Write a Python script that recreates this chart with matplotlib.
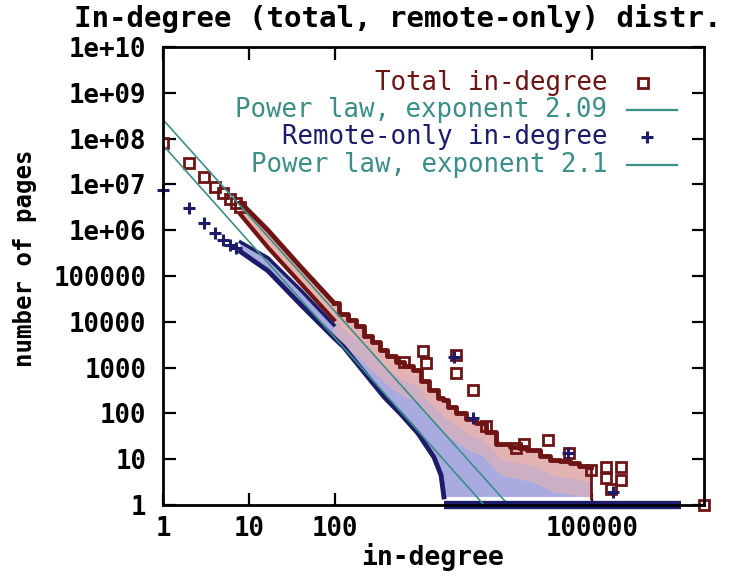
import matplotlib
matplotlib.use("Agg")
import matplotlib.pyplot as plt
import numpy as np

# --- data ---
# total in-degree, first few degrees (single squares)
tot_x = [1, 2, 3, 4, 5, 6, 7, 8]
tot_y = [8.0e7, 2.9e7, 1.45e7, 8.8e6, 6.5e6, 4.8e6, 3.9e6, 3.2e6]

# remote-only in-degree, first few degrees (pluses)
rem_x = [1, 2, 3, 4, 5, 6, 7]
rem_y = [7.6e6, 3.0e6, 1.45e6, 8.7e5, 6.1e5, 4.8e5, 4.1e5]

# total band while separate (degree 8 .. 98)
band_x = [8, 16.7, 40, 98]
tot_band_up = [4.0e6, 1.0e6, 1.6e5, 2.6e4]
tot_band_lo = [2.2e6, 4.2e5, 7.0e4, 1.1e4]
rem_band_up = [5.5e5, 2.5e5, 5.0e4, 8.5e3]
rem_band_lo = [3.4e5, 1.3e5, 2.4e4, 4.5e3]

# merged cloud, upper edge (total) from degree 98 on
cloud_up_x = [98, 128, 155, 200, 245, 300, 377, 450, 590, 700, 935, 1100, 1440,
              1740, 1880, 2300, 2960, 3800, 5100, 6500, 8700, 13700, 21000,
              28000, 36000, 48000, 62000, 80000, 98000]
cloud_up_y = [2.6e4, 1.5e4, 1.1e4, 8.0e3, 5.0e3, 3.6e3, 2.4e3, 1.8e3, 1.3e3,
              1.1e3, 890, 500, 320, 215, 195, 140, 102, 75, 62, 40, 22, 18.5, 16,
              12, 9.6, 9.0, 8.3, 7.2, 6.8]
# merged cloud, lower edge (remote-only)
cloud_lo_x = [98, 128, 155, 245, 377, 590, 935, 1440, 1740, 1880, 98000]
cloud_lo_y = [4.5e3, 2.8e3, 1.8e3, 620, 230, 97, 37, 11, 4.5, 1.5, 1.5]

# degree-1 counts stretch out to about a million
ones_x = [1880, 1.1e6]
ones_y = [1, 1]

# scattered squares / pluses above the cloud
out_sq_x = [645, 1070, 1170, 2600, 2600, 4100, 5800, 13000, 16000, 31000, 54000,
            97000, 145000, 218000, 145000, 218000, 166000, 2.0e6]
out_sq_y = [1320, 2300, 1260, 1900, 760, 325, 53, 18, 21, 26, 13.7,
            5.8, 6.7, 6.7, 3.9, 3.5, 2.2, 1]
out_pl_x = [2460, 4100, 52000, 175000]
out_pl_y = [1700, 79, 13.7, 1.9]

# fitted power laws
fit_tot_c, fit_tot_exp = 2.6e8, 2.09
fit_rem_c, fit_rem_exp = 7.2e7, 2.1

yticks = [1, 10, 100, 1000, 10000, 100000, 1e6, 1e7, 1e8, 1e9, 1e10]
ytick_labels = ["1", "10", "100", "1000", "10000", "100000",
                "1e+06", "1e+07", "1e+08", "1e+09", "1e+10"]
xticks = [1, 10, 100, 100000]
xtick_labels = ["1", "10", "100", "100000"]

maroon = "#6e1414"
navy = "#1c1c6b"
teal = "#3a8f88"
pink = "#eab4ae"
lavender = "#a9abe0"
mono = "DejaVu Sans Mono"

fig = plt.figure(figsize=(7.36, 5.76), dpi=100)
ax = fig.add_axes([163 / 736, 1 - 505 / 576, 541 / 736, 458 / 576])
ax.set_xscale("log")
ax.set_yscale("log")
ax.set_xlim(1, 2.02e6)
ax.set_ylim(1, 1e10)

# merged cloud: lavender body, pink toward the upper edge
cx = np.concatenate([cloud_up_x, cloud_lo_x[::-1]])
cy = np.concatenate([cloud_up_y, cloud_lo_y[::-1]])
ax.fill(cx, cy, color=lavender, lw=0, zorder=2)
ux = np.array(cloud_up_x, dtype=float)
uy = np.array(cloud_up_y, dtype=float)
lo_at_up = np.exp(np.interp(np.log(ux), np.log(cloud_lo_x), np.log(cloud_lo_y)))
ax.fill_between(ux, np.maximum(uy / 5, lo_at_up), uy, color=pink, lw=0,
                alpha=0.55, zorder=2)
ax.fill_between(ux, np.maximum(uy / 2.2, lo_at_up), uy, color=pink, lw=0,
                alpha=0.8, zorder=2)

# total band
bx = np.concatenate([band_x, band_x[::-1]])
ax.fill(bx, np.concatenate([tot_band_up, tot_band_lo[::-1]]), color=pink, lw=0,
        zorder=2)
ax.plot(band_x, tot_band_up, color=maroon, lw=3.5, zorder=3)
ax.plot(cloud_up_x, cloud_up_y, color=maroon, lw=3.5, zorder=3,
        drawstyle="steps-mid")
ax.plot(band_x, tot_band_lo, color=maroon, lw=3, zorder=3)
ax.plot([cloud_up_x[-1], cloud_up_x[-1]], [cloud_up_y[-1], 1.4], color=maroon,
        lw=2, zorder=3)

# total squares
ax.plot(tot_x, tot_y, ls="none", marker="s", ms=7.5, mfc="none", mec=maroon,
        mew=2, zorder=4)
ax.plot(out_sq_x, out_sq_y, ls="none", marker="s", ms=7.5, mfc="none",
        mec=maroon, mew=2, zorder=4, clip_on=False)

# total power law
xs = np.array([1, 2.02e6])
ax.plot(xs, fit_tot_c * xs ** -fit_tot_exp, color=teal, lw=1.2, zorder=5)

# remote band
ax.fill(bx, np.concatenate([rem_band_up, rem_band_lo[::-1]]), color=lavender,
        lw=0, zorder=6)
ax.plot(band_x, rem_band_up, color=navy, lw=2.5, zorder=6)
ax.plot(band_x + cloud_lo_x[1:-1], rem_band_lo + cloud_lo_y[1:-1], color=navy,
        lw=3.5, zorder=6)

ax.plot(rem_x, rem_y, ls="none", marker="+", ms=9, mec=navy, mew=2.2,
        zorder=7, clip_on=False)
ax.plot(out_pl_x, out_pl_y, ls="none", marker="+", ms=9, mec=navy, mew=2.2,
        zorder=7)

# count = 1 row
ax.plot(ones_x, ones_y, color=navy, lw=6, solid_capstyle="butt", zorder=7,
        clip_on=False)

# remote power law
ax.plot(xs, fit_rem_c * xs ** -fit_rem_exp, color=teal, lw=1.2, zorder=8)

# axes styling
for s in ax.spines.values():
    s.set_linewidth(2)
    s.set_zorder(9)
ax.set_xticks(xticks)
ax.set_xticklabels(xtick_labels)
ax.set_yticks(yticks)
ax.set_yticklabels(ytick_labels)
ax.minorticks_off()
ax.tick_params(which="major", direction="in", length=9, width=1.6,
               top=True, right=True, labelsize=18.5)
ax.tick_params(axis="y", pad=12)
ax.tick_params(axis="x", pad=8)
for lab in ax.get_xticklabels() + ax.get_yticklabels():
    lab.set_fontfamily(mono)
    lab.set_fontweight("bold")

fig.text(0.541, 0.968, "In-degree (total, remote-only) distr.", ha="center",
         va="center", fontsize=21, fontfamily=mono, fontweight="bold")
fig.text(0.588, 0.033, "in-degree", ha="center", va="center", fontsize=19,
         fontfamily=mono, fontweight="bold")
fig.text(0.034, 0.552, "number of pages", ha="center", va="center",
         fontsize=17.3, fontfamily=mono, fontweight="bold", rotation=90)

# legend (gnuplot style: text right, sample after)
rows = [(0.921, "Total in-degree", maroon),
        (0.862, "Power law, exponent 2.09", teal),
        (0.803, "Remote-only in-degree", navy),
        (0.742, "Power law, exponent 2.1", teal)]
for yy, txt, col in rows:
    ax.text(0.821, yy, txt, transform=ax.transAxes, ha="right", va="center",
            fontsize=18.5, fontfamily=mono, color=col, zorder=10)
ax.plot([0.887], [0.921], transform=ax.transAxes, marker="s", ms=7.5,
        mfc="none", mec=maroon, mew=2, clip_on=False, zorder=10)
ax.plot([0.858, 0.950], [0.862, 0.862], transform=ax.transAxes, color=teal,
        lw=1.6, clip_on=False, zorder=10)
ax.plot([0.895], [0.803], transform=ax.transAxes, marker="+", ms=9, mec=navy,
        mew=2.2, clip_on=False, zorder=10)
ax.plot([0.858, 0.950], [0.742, 0.742], transform=ax.transAxes, color=teal,
        lw=1.6, clip_on=False, zorder=10)

fig.savefig("out.png", dpi=100)
